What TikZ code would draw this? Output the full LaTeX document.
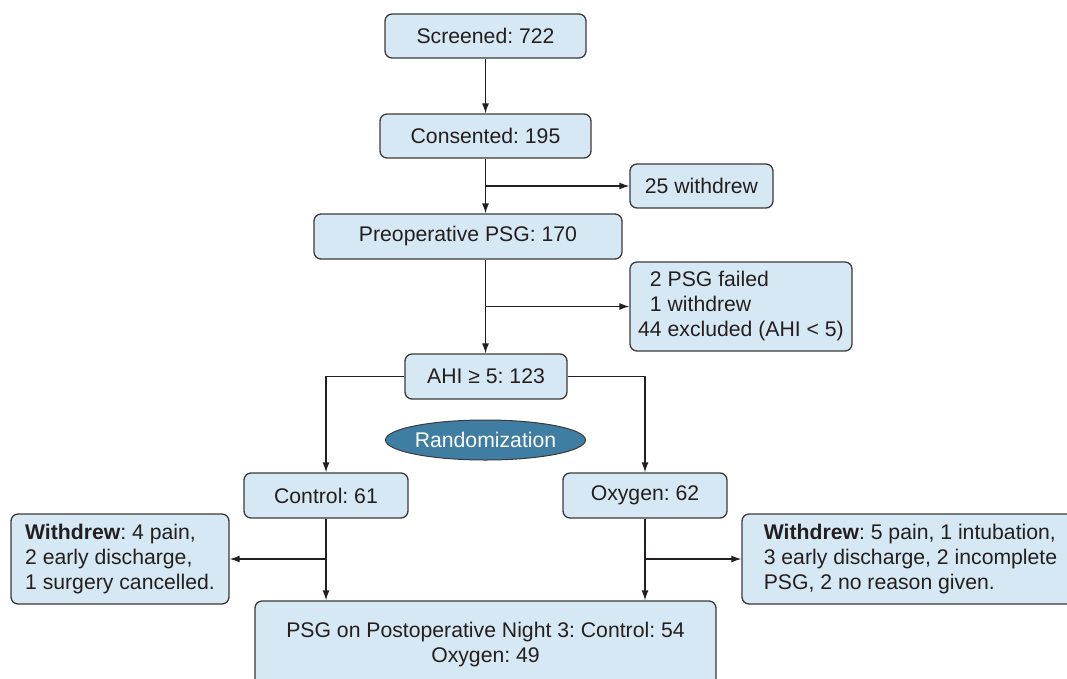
\documentclass[tikz,border=0pt]{standalone}
\usepackage{fontspec}
\setmainfont{Liberation Sans}
\frenchspacing
\usetikzlibrary{arrows.meta,positioning,shapes.geometric}
\definecolor{fcFill}{HTML}{D6E8F3}
\definecolor{fcEdge}{HTML}{3A3A3A}
\definecolor{fcOval}{HTML}{3F7EA2}
\definecolor{fcInk}{HTML}{231F20}
\tikzset{
  fc diagram/.style={x=1pt, y=-1pt, font=\fontsize{21.2}{25}\selectfont,
    text=fcInk, line join=round},
  fc box/.style={draw=fcEdge, fill=fcFill, line width=1.3pt,
    rounded corners=7pt, align=center, inner sep=0pt},
  fc note/.style={fc box, align=left},
  fc oval/.style={ellipse, draw=fcEdge, fill=fcOval, text=white,
    line width=1pt, inner sep=0pt},
  fc arrow/.style={-{Latex[length=10pt,width=7pt]}, draw=fcInk, line width=1.3pt}
}
\begin{document}
\begin{tikzpicture}[fc diagram]
\path[use as bounding box, clip] (0,0) rectangle (1067,678);
% main column
\node[fc box, minimum width=201pt, minimum height=44pt] (screened) at (485.5,36) {Screened: 722};
\node[fc box, minimum width=211pt, minimum height=44pt] (consented) at (485.5,136) {Consented: 195};
\node[fc box, minimum width=308pt, minimum height=45pt] (preop) at (468,236.5) {Preoperative PSG: 170};
\node[fc box, minimum width=162pt, minimum height=45pt] (ahi) at (486,376.5) {AHI ≥ 5: 123};
\node[fc oval, minimum width=195pt, minimum height=40pt] (random) at (485.5,440) {Randomization};
\node[fc box, minimum width=164pt, minimum height=45pt] (control) at (326,495.5) {Control: 61};
\node[fc box, minimum width=164pt, minimum height=45pt] (oxygen) at (645,495.5) {Oxygen: 62};
\node[fc box, minimum width=461pt, minimum height=88pt] (result) at (485.5,645)
  {PSG on Postoperative Night 3: Control: 54\\Oxygen: 49};
% side boxes
\node[fc box, minimum width=143pt, minimum height=44pt] (withdrewA) at (701.5,186) {25 withdrew};
\node[fc note, minimum width=222pt, minimum height=89pt] (failed) at (741,306.5)
  {\phantom{4}2 PSG failed\\\phantom{4}1 withdrew\\44 excluded (AHI < 5)};
\node[fc note, minimum width=218pt, minimum height=90pt] (leftout) at (120,559)
  {\textbf{Withdrew}: 4 pain,\\2 early discharge,\\1 surgery cancelled.};
\node[fc note, minimum width=337pt, minimum height=90pt] (rightout) at (910.5,559)
  {\textbf{Withdrew}: 5 pain, 1 intubation,\\3 early discharge, 2 incomplete\\PSG, 2 no reason given.};
% connectors
\draw[fc arrow] (screened) -- (consented);
\draw[fc arrow] (consented) -- (consented.south |- preop.north);
\draw[fc arrow] (consented.south |- withdrewA.west) -- (withdrewA.west);
\draw[fc arrow] (consented.south |- preop.south) -- (consented.south |- ahi.north);
\draw[fc arrow] (consented.south |- failed.west) -- (failed.west);
\draw[fc arrow] (ahi.west) -| (control);
\draw[fc arrow] (ahi.east) -| (oxygen);
\draw[fc arrow] (control) -- (control.south |- result.north);
\draw[fc arrow] (oxygen) -- (oxygen.south |- result.north);
\draw[fc arrow] (control.south |- leftout.east) -- (leftout.east);
\draw[fc arrow] (oxygen.south |- rightout.west) -- (rightout.west);
\end{tikzpicture}
\end{document}
